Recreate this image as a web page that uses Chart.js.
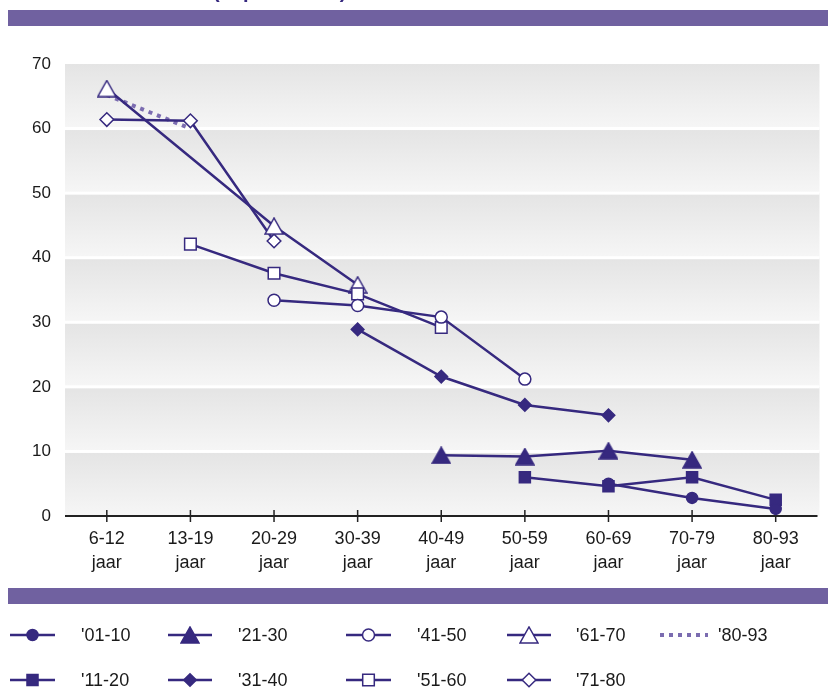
<!DOCTYPE html>
<html>
<head>
<meta charset="utf-8">
<script src="https://cdn.jsdelivr.net/npm/chart.js"></script>
<style>
	html, body { margin: 0; padding: 0; background: #fff; }
	#wrap { position: relative; width: 828px; height: 692px; }
</style>
</head>
<body>
<div id="wrap"><canvas id="chart" width="828" height="692"></canvas></div>
<script>
const ageGroups = ["6-12", "13-19", "20-29", "30-39", "40-49", "50-59", "60-69", "70-79", "80-93"];
const yTicks = [0, 10, 20, 30, 40, 50, 60, 70];

const cohortLabels = ["'01-10", "'11-20", "'21-30", "'31-40", "'41-50", "'51-60", "'61-70", "'71-80", "'80-93"];
const c01_10 = [null, null, null, null, null, null, 5.0, 2.8, 1.1];
const c11_20 = [null, null, null, null, null, 6.0, 4.6, 6.0, 2.5];
const c21_30 = [null, null, null, null, 9.4, 9.2, 10.1, 8.7, null];
const c31_40 = [null, null, null, 28.9, 21.6, 17.2, 15.6, null, null];
const c41_50 = [null, null, 33.4, 32.6, 30.8, 21.2, null, null, null];
const c51_60 = [null, 42.1, 37.6, 34.4, 29.2, null, null, null, null];
const c61_70 = [66.2, null, 44.9, 35.8, null, null, null, null, null];
const c71_80 = [61.4, 61.2, 42.6, null, null, null, null, null, null];
const c80_93 = [65.2, 60.0, null, null, null, null, null, null, null];

const INK = "#36297f";
const DOTS = "#7b6cb0";
const BAND = "#7061a0";
const FONT = "'Liberation Sans', Arial, sans-serif";

// triangle marker centred on its bounding box (the built-in one sits on its centroid)
function triangleMarker(open) {
	const w = 18, h = 16;
	const c = document.createElement("canvas");
	c.width = w + 2;
	c.height = h + 2;
	const g = c.getContext("2d");
	g.beginPath();
	g.moveTo(1, h + 1);
	g.lineTo(w + 1, h + 1);
	g.lineTo(w / 2 + 1, 1);
	g.closePath();
	g.fillStyle = open ? "#fff" : INK;
	g.fill();
	g.strokeStyle = INK;
	g.lineWidth = 1.5;
	g.stroke();
	return c;
}

const series = [
	{ data: c01_10, style: "circle", radius: 5.5, open: false },
	{ data: c11_20, style: "rect", radius: 7.8, open: false },
	{ data: c21_30, style: triangleMarker(false), radius: 9, open: false },
	{ data: c31_40, style: "rectRot", radius: 6.3, open: false },
	{ data: c41_50, style: "circle", radius: 6, open: true },
	{ data: c51_60, style: "rect", radius: 8.2, open: true },
	{ data: c61_70, style: triangleMarker(true), radius: 9, open: true },
	{ data: c71_80, style: "rectRot", radius: 6.8, open: true },
];

const datasets = series.map((s, i) => ({
	label: cohortLabels[i],
	data: s.data,
	borderColor: INK,
	borderWidth: 2.5,
	pointStyle: s.style,
	pointRadius: s.radius,
	pointBackgroundColor: s.open ? "#fff" : INK,
	pointBorderColor: INK,
	pointBorderWidth: 1.5,
	spanGaps: true,
	order: 1,
}));
datasets.push({
	label: cohortLabels[8],
	data: c80_93,
	borderColor: DOTS,
	borderWidth: 4,
	borderDash: [4, 5],
	borderCapStyle: "butt",
	pointRadius: 0,
	order: 2,
});

// banded grey background, header/footer bars, axis line with crossing ticks
const frame = {
	id: "frame",
	beforeDraw(chart) {
		const { ctx, chartArea: a, scales: { y } } = chart;
		ctx.save();
		ctx.fillStyle = "#fff";
		ctx.fillRect(0, 0, chart.width, chart.height);

		ctx.fillStyle = BAND;
		ctx.fillRect(8, 10, 820, 16);
		ctx.fillRect(8, 588, 820, 16);

		ctx.fillStyle = INK;
		ctx.font = "bold 20px " + FONT;
		ctx.textBaseline = "alphabetic";
		ctx.fillText("(in procenten)", 213, -2);

		for (let v = 0; v < 70; v += 10) {
			const top = y.getPixelForValue(v + 10);
			const bot = y.getPixelForValue(v);
			const g = ctx.createLinearGradient(0, top, 0, bot);
			g.addColorStop(0, "#e4e4e4");
			g.addColorStop(1, "#f6f6f6");
			ctx.fillStyle = g;
			ctx.fillRect(a.left, top, a.right - a.left + 2, bot - top);
		}
		ctx.fillStyle = "#fff";
		for (let v = 10; v < 70; v += 10) {
			const py = y.getPixelForValue(v);
			ctx.fillRect(a.left, py - 1.5, a.right - a.left + 2, 3);
		}
		ctx.restore();
	},
	beforeDatasetsDraw(chart) {
		const { ctx, chartArea: a, scales: { x } } = chart;
		ctx.save();
		ctx.strokeStyle = "#222";
		ctx.lineWidth = 2;
		ctx.beginPath();
		ctx.moveTo(a.left, a.bottom);
		ctx.lineTo(a.right, a.bottom);
		ctx.stroke();
		ctx.lineWidth = 1.5;
		ageGroups.forEach((_, i) => {
			const px = x.getPixelForValue(i);
			ctx.beginPath();
			ctx.moveTo(px, a.bottom - 6);
			ctx.lineTo(px, a.bottom + 6);
			ctx.stroke();
		});
		ctx.restore();
	},
};

// two-row legend below the footer bar
const legendCols = [
	{ line: [10, 55], text: 81 },
	{ line: [168, 212], text: 238 },
	{ line: [346, 391], text: 417 },
	{ line: [507, 551], text: 576 },
	{ line: [660, 708], text: 718 },
];
const legendRows = [635, 680];

const legendBlock = {
	id: "legendBlock",
	afterDraw(chart) {
		const { ctx } = chart;
		ctx.save();
		chart.data.datasets.forEach((ds, i) => {
			const col = legendCols[Math.floor(i / 2)];
			const ly = legendRows[i % 2];
			ctx.strokeStyle = ds.borderColor;
			ctx.lineWidth = ds.borderWidth;
			ctx.setLineDash(ds.borderDash || []);
			ctx.lineCap = "butt";
			ctx.beginPath();
			ctx.moveTo(col.line[0], ly);
			ctx.lineTo(col.line[1], ly);
			ctx.stroke();
			ctx.setLineDash([]);
			if (ds.pointRadius) {
				ctx.fillStyle = ds.pointBackgroundColor;
				ctx.strokeStyle = ds.pointBorderColor;
				ctx.lineWidth = ds.pointBorderWidth;
				Chart.helpers.drawPoint(ctx, {
					pointStyle: ds.pointStyle,
					radius: ds.pointRadius,
					rotation: 0,
					borderWidth: ds.pointBorderWidth,
				}, (col.line[0] + col.line[1]) / 2, ly);
			}
			ctx.fillStyle = "#1a1a1a";
			ctx.font = "18px " + FONT;
			ctx.textBaseline = "middle";
			ctx.textAlign = "left";
			ctx.fillText(ds.label, col.text, ly + 1);
		});
		ctx.restore();
	},
};

new Chart(document.getElementById("chart"), {
	type: "line",
	plugins: [frame, legendBlock],
	data: {
		labels: ageGroups.map(a => [a, "jaar"]),
		datasets,
	},
	options: {
		responsive: false,
		animation: false,
		layout: { padding: { left: 0, right: 8, top: 64, bottom: 116 } },
		plugins: {
			legend: { display: false },
			tooltip: { enabled: false },
		},
		scales: {
			x: {
				offset: true,
				grid: { display: false, drawTicks: false },
				border: { display: false },
				ticks: {
					color: "#1a1a1a",
					font: { family: FONT, size: 18, lineHeight: 1.33 },
					padding: 11,
					maxRotation: 0,
					autoSkip: false,
				},
				afterFit(scale) { scale.height = 60; },
			},
			y: {
				min: 0,
				max: 70,
				grid: { display: false, drawTicks: false },
				border: { display: false },
				afterBuildTicks(scale) { scale.ticks = yTicks.map(v => ({ value: v })); },
				ticks: {
					color: "#1a1a1a",
					font: { family: FONT, size: 17 },
					padding: 14,
				},
				afterFit(scale) { scale.width = 65; },
			},
		},
	},
});
</script>
</body>
</html>
